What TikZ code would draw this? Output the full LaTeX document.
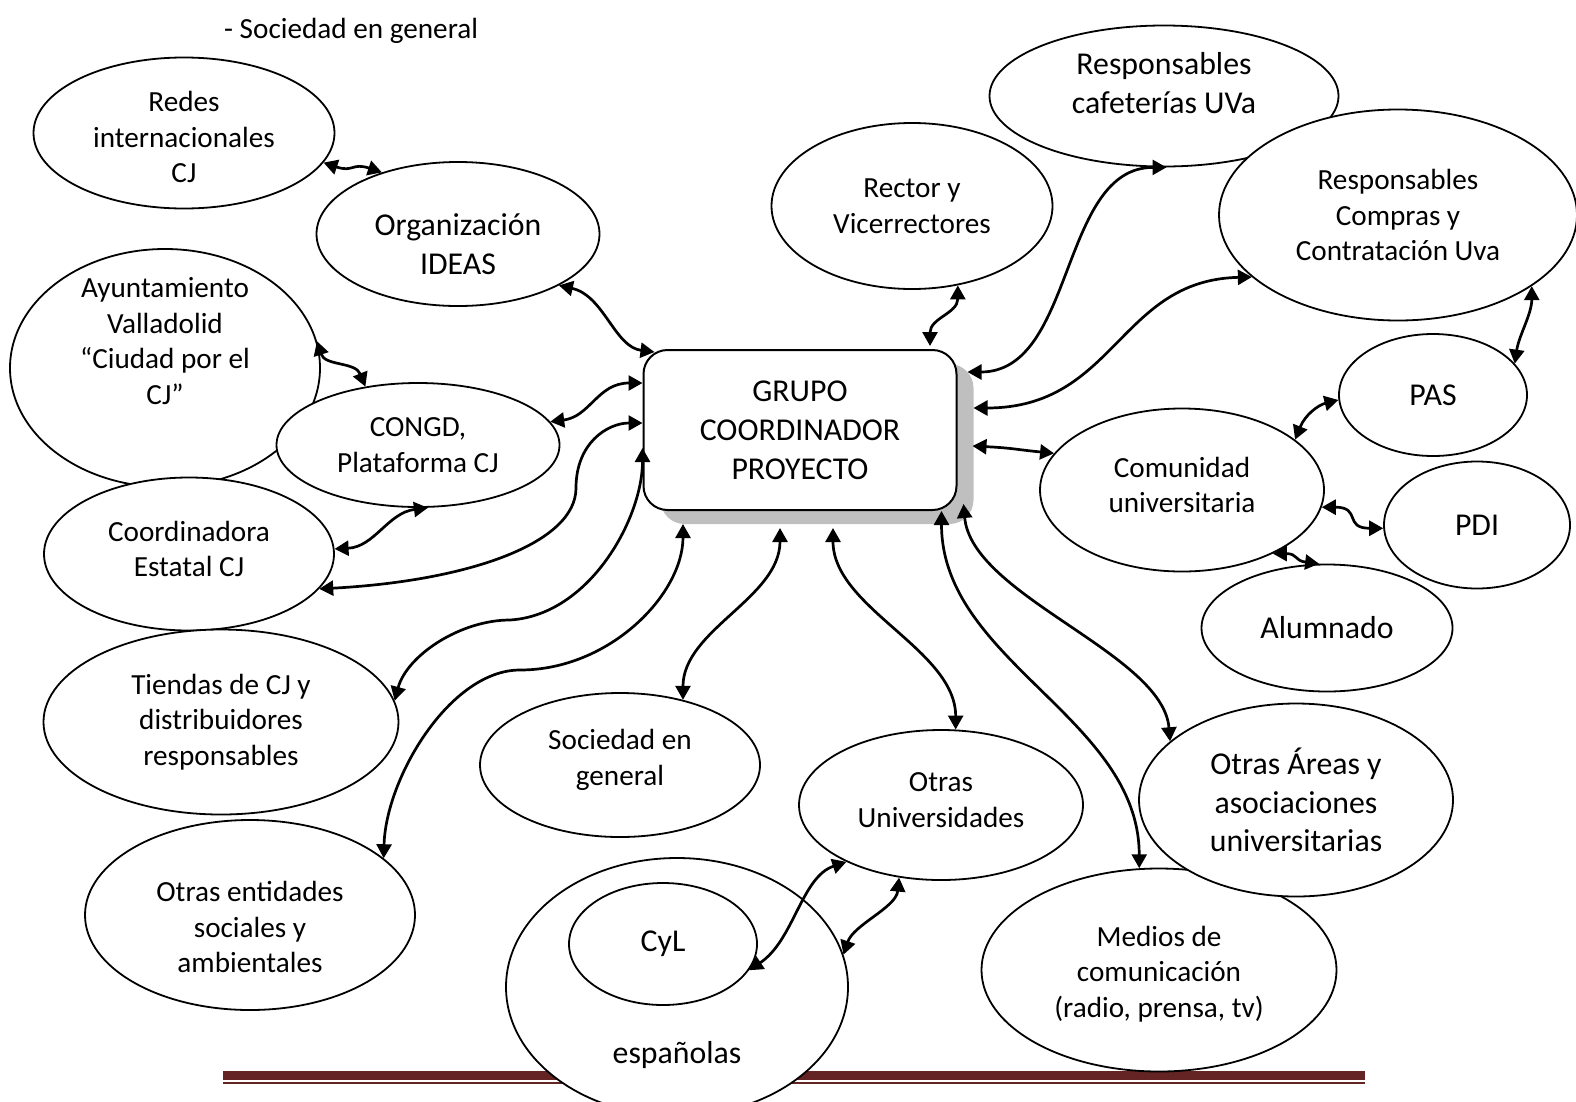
\documentclass[tikz,border=0pt]{standalone}
\usepackage{fontspec}
\setmainfont{Carlito}
\usetikzlibrary{shapes.geometric,arrows.meta,shadows}
\definecolor{barred}{RGB}{99,36,35}
\definecolor{shadowgray}{RGB}{191,191,191}

\begin{document}
\begin{tikzpicture}[x=1pt,y=-1pt,
    bubble/.style={draw, ellipse, fill=white, line width=1.8pt, inner sep=0pt, align=center, font=\fontsize{29.2}{35.7}\selectfont},
    dims/.style 2 args={minimum width=#1pt, minimum height=#2pt},
    bigtext/.style={font=\fontsize{31.8}{38.8}\selectfont},
    txt/.style={align=center, inner sep=0pt, font=\fontsize{29.2}{35.7}\selectfont},
    link/.style={line width=2.7pt, {Triangle[length=14pt,width=15pt]}-{Triangle[length=14pt,width=15pt]}}]

\useasboundingbox (0,0) rectangle (1576,1101);

\fill[barred] (223,1071) rectangle (1365,1080);
\draw[barred, line width=1.4pt] (223,1083) -- (1365,1083);

\node[txt, anchor=west] (encabezado) at (224,31) {- Sociedad en general};

\node[bubble, dims={301}{151}] (redes) at (184,133) {};
\node[txt] (redestxt) at (184,137) {Redes\\internacionales\\CJ};
\node[bubble, dims={283}{144}] (ideas) at (458,234) {};
\node[txt, bigtext] (ideastxt) at (458,244) {Organización\\IDEAS};
\node[bubble, dims={310}{238}] (ayunt) at (165,368) {};
\node[txt] (ayunttxt) at (165,341) {Ayuntamiento\\Valladolid\\“Ciudad por el\\CJ”};
\node[bubble, dims={283}{124}] (congd) at (418,445) {CONGD,\\Plataforma CJ};
\node[bubble, dims={290}{153}] (coord) at (189,554) {};
\node[txt] (coordtxt) at (189,549) {Coordinadora\\Estatal CJ};
\node[bubble, dims={355}{185}] (tiendas) at (221,722) {Tiendas de CJ y\\distribuidores\\responsables};
\node[bubble, dims={330}{190}] (otrasent) at (250,915) {};
\node[txt] (otrasenttxt) at (250,927) {Otras entidades\\sociales y\\ambientales};
\node[bubble, dims={280}{144}] (sociedad) at (620,765) {};
\node[txt] (sociedadtxt) at (620,760) {Sociedad en\\general};

\node[bubble, dims={342}{258}] (uniesp) at (677,987) {};
\node[txt, bigtext] (uniesptxt) at (677,1055) {españolas};
\node[bubble, bigtext, dims={188}{122}] (cyl) at (663,944) {CyL};
\node[bubble, dims={284}{150}] (otrasuni) at (941,805) {};
\node[txt] (otrasunitxt) at (941,800) {Otras\\Universidades};

\node[bubble, dims={355}{203}] (medios) at (1159,970) {};
\node[txt] (mediostxt) at (1159,974) {Medios de\\comunicación\\(radio, prensa, tv)};
\node[bubble, bigtext, dims={314}{193}] (areas) at (1296,800) {Otras Áreas y\\asociaciones\\universitarias};
\node[bubble, bigtext, dims={251}{127}] (alumnado) at (1327,628) {Alumnado};
\node[bubble, bigtext, dims={186}{127}] (pdi) at (1477,525) {PDI};
\node[bubble, bigtext, dims={188}{122}] (pas) at (1433,395) {PAS};
\node[bubble, dims={284}{163}] (comunidad) at (1182,490) {};
\node[txt] (comunidadtxt) at (1182,485) {Comunidad\\universitaria};

\node[bubble, dims={281}{166}] (rector) at (912,206) {Rector y\\Vicerrectores};
\node[bubble, dims={349}{141}] (cafe) at (1164,96) {};
\node[txt, bigtext] (cafetxt) at (1164,83) {Responsables\\cafeterías UVa};
\node[bubble, dims={358}{211}] (compras) at (1398,215) {Responsables\\Compras y\\Contratación Uva};

\node[draw, line width=2pt, rounded corners=24pt, fill=white, align=center, bigtext, minimum width=313pt, minimum height=160pt,
    general shadow={fill=shadowgray, shadow xshift=17pt, shadow yshift=-14pt}] (grupo) at (800,430) {GRUPO\\COORDINADOR\\PROYECTO};

\draw[link] (redes.-12) .. controls +(30,10) and +(-30,-10) .. (ideas.141);
\draw[link] (ideas.-27) .. controls +(45,10) and +(-40,-5) .. ([xshift=12pt,yshift=-3pt]grupo.north west);
\draw[link] (ayunt.10) .. controls +(8,25) and +(-10,-25) .. (congd.132);
\draw[link] (congd.10) .. controls +(40,-5) and +(-45,0) .. ([yshift=47pt]grupo.west);
\draw[link] (coord.2) .. controls +(40,-2) and +(-40,5) .. (congd.-81);
\draw[link] (coord.-15) .. controls +(150,-8) and +(0,55) .. (576,488) .. controls +(0,-45) and +(-35,0) .. ([yshift=7pt]grupo.west);
\draw[link] (tiendas.7) .. controls +(12,-45) and +(-50,0) .. (510,620) .. controls +(80,-5) and +(0,70) .. ([yshift=-18pt]grupo.west);
\draw[link] (otrasent.23) .. controls +(2,-80) and +(-70,0) .. (520,670) .. controls +(90,0) and +(0,70) .. ([xshift=-117pt,yshift=-13pt]grupo.south);
\draw[link] (sociedad.46) .. controls +(0,-70) and +(0,70) .. ([xshift=-20pt,yshift=-17pt]grupo.south);
\draw[link] (otrasuni.79) .. controls +(0,-80) and +(0,80) .. ([xshift=33pt,yshift=-17pt]grupo.south);
\draw[link] (medios.101) .. controls +(0,-150) and +(0,150) .. ([xshift=-16pt]grupo.south east);
\draw[link] (areas.155) .. controls +(-7,-88) and +(8,92) .. ([xshift=6pt,yshift=7pt]grupo.south east);

\draw[link] (rector.-60) .. controls +(0,28) and +(0,-28) .. ([xshift=130pt,yshift=3pt]grupo.north);
\draw[link] (cafe.-88) .. controls +(-107,0) and +(108,0) .. ([xshift=10pt,yshift=58pt]grupo.east);
\draw[link] (compras.-157) .. controls +(-133,3) and +(142,0) .. ([xshift=16pt,yshift=22pt]grupo.east);
\draw[link] (comunidad.164) .. controls +(-40,-4) and +(40,2) .. ([xshift=15pt,yshift=-16pt]grupo.east);

\draw[link] (compras.-28) .. controls +(0,28) and +(4,-28) .. (pas.21);
\draw[link] (comunidad.24) .. controls +(10,-25) and +(-20,5) .. (pas.183);
\draw[link] (comunidad.-7) .. controls +(40,0) and +(-40,0) .. (pdi.182);
\draw[link] (comunidad.-35) .. controls +(25,0) and +(-25,-3) .. (alumnado.97);

\draw[link] (otrasuni.-149) .. controls +(-45,15) and +(45,-30) .. (cyl.-17);
\draw[link] (otrasuni.-120) .. controls +(-3,30) and +(10,-30) .. (uniesp.11);
\end{tikzpicture}
\end{document}
